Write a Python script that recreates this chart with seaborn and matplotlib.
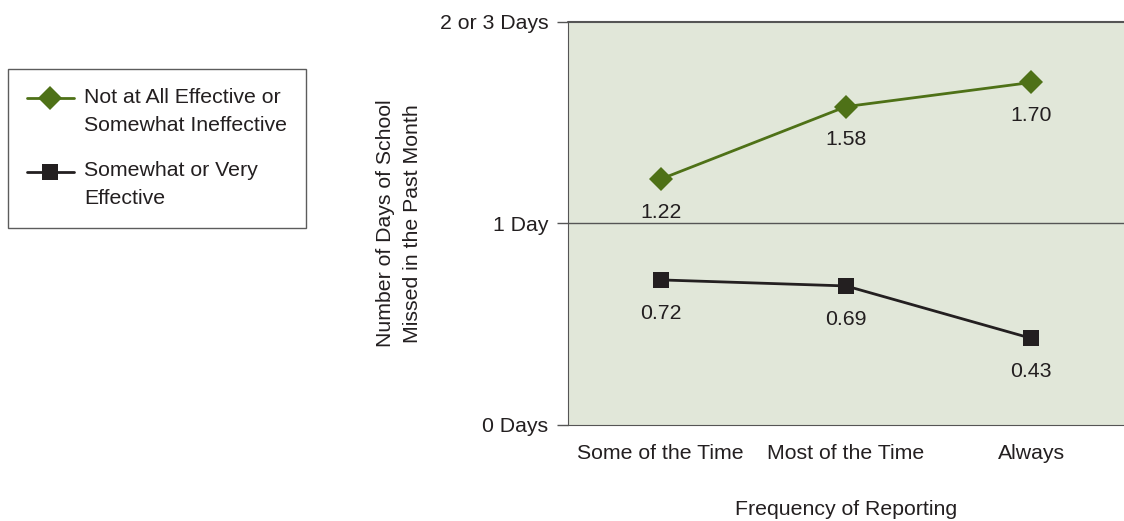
import matplotlib
matplotlib.use("Agg")
import matplotlib.pyplot as plt
from matplotlib.legend_handler import HandlerLine2D
import seaborn as sns
import pandas as pd

categories = ["Some of the Time", "Most of the Time", "Always"]
not_effective = [1.22, 1.58, 1.70]
effective = [0.72, 0.69, 0.43]
series_names = ["Not at All Effective or\nSomewhat Ineffective",
                "Somewhat or Very\nEffective"]
y_ticks = [0, 1, 2]
y_tick_labels = ["0 Days", "1 Day", "2 or 3 Days"]

green = "#4e7117"
dark = "#231f20"

df = pd.DataFrame({
    "freq": categories * 2,
    "days": not_effective + effective,
    "group": [series_names[0]] * 3 + [series_names[1]] * 3,
})
df["pos"] = df["freq"].map({c: i for i, c in enumerate(categories)})

sns.set_style("white")
plt.rcParams["font.family"] = ["Liberation Sans", "DejaVu Sans"]
plt.rcParams["font.size"] = 15.3
plt.rcParams["text.color"] = "#231f20"


# legend handle sits on the first line of a two-line label
class FirstLineHandler(HandlerLine2D):
    def create_artists(self, legend, orig_handle, xdescent, ydescent,
                       width, height, fontsize, trans):
        return super().create_artists(legend, orig_handle, xdescent,
                                      ydescent - 19, width, height,
                                      fontsize, trans)


fig = plt.figure(figsize=(11.24, 5.21), dpi=100)
ax = fig.add_axes([0.5053, 0.1843, 0.4947, 0.7735])
ax.set_facecolor("#e1e7d9")

sns.lineplot(data=df, x="pos", y="days", hue="group", style="group",
             palette={series_names[0]: green, series_names[1]: dark},
             markers={series_names[0]: "D", series_names[1]: "s"},
             dashes=False, linewidth=2, markersize=12, markeredgewidth=0,
             ax=ax, legend=False)

# value labels under each marker
for vals in (not_effective, effective):
    for i, v in enumerate(vals):
        ax.annotate(f"{v:.2f}", (i, v), textcoords="offset points",
                    xytext=(0, -24), ha="center", va="center",
                    fontsize=15.3, color="#231f20")

ax.set_xlim(-0.5, 2.5)
ax.set_ylim(0, 2)
ax.set_xticks(range(len(categories)))
ax.set_xticklabels(categories, color="#231f20")
ax.set_xticks([-0.5, 0.5, 1.5, 2.5], minor=True)
ax.tick_params(axis="x", which="major", length=0, pad=14)
ax.tick_params(axis="x", which="minor", length=6, width=1, color="#555555",
               direction="out")
ax.set_yticks(y_ticks)
ax.set_yticklabels(y_tick_labels, color="#231f20")
ax.tick_params(axis="y", length=8, width=1, color="#555555", direction="out",
               pad=6, left=True)
ax.axhline(1, color="#555555", linewidth=1)
ax.axhline(2, color="#555555", linewidth=1.5, clip_on=False)

ax.spines["right"].set_visible(False)
ax.spines["top"].set_visible(False)
ax.spines["left"].set_color("#555555")
ax.spines["bottom"].set_color("#555555")

ax.set_xlabel("Frequency of Reporting", color="#231f20")
ax.xaxis.set_label_coords(0.5, -0.185)
ax.xaxis.label.set_va("top")
ax.set_ylabel("Number of Days of School\nMissed in the Past Month",
              color="#231f20", linespacing=1.5)
ax.yaxis.set_label_coords(-0.263, 0.5)

handles = [
    plt.Line2D([], [], color=green, marker="D", markersize=12, linewidth=2,
               markeredgewidth=0),
    plt.Line2D([], [], color=dark, marker="s", markersize=11, linewidth=2,
               markeredgewidth=0),
]
leg = fig.legend(handles, series_names, loc="upper left",
                 bbox_to_anchor=(0.007, 0.868), frameon=True, fancybox=False,
                 edgecolor="#333333", handlelength=2.2, borderpad=0.9,
                 labelspacing=1.25, handletextpad=0.5, borderaxespad=0,
                 handler_map={plt.Line2D: FirstLineHandler()})
leg.get_frame().set_linewidth(1)
for t in leg.get_texts():
    t.set_linespacing(1.6)

fig.savefig("out.png", dpi=100)
